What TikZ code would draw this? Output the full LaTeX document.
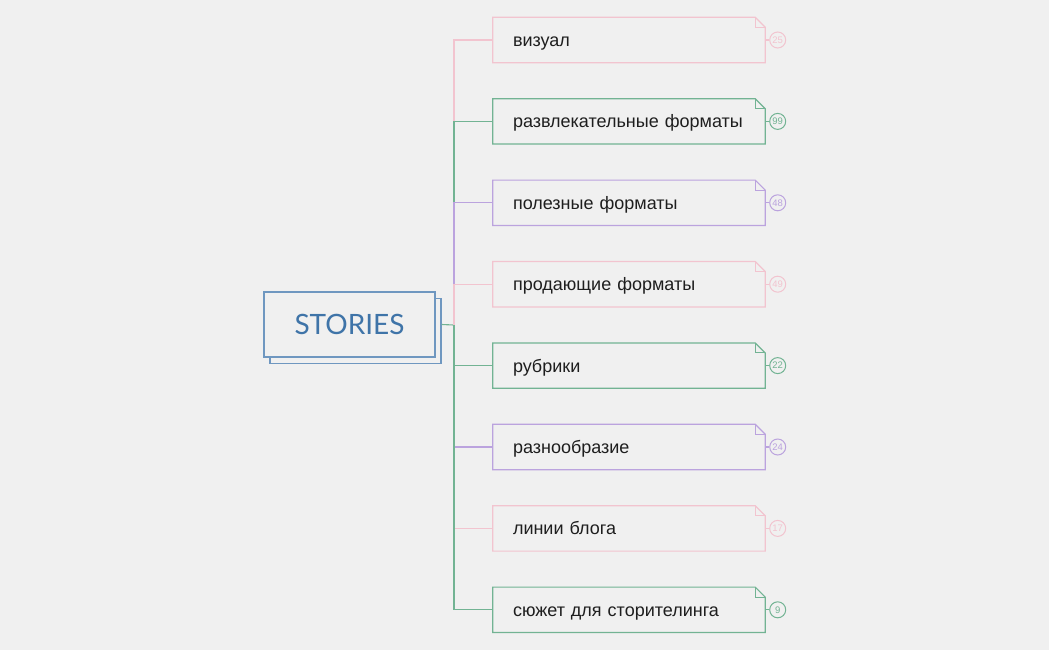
\documentclass[tikz,border=0pt]{standalone}
\usepackage{fontspec}
\setmainfont{Liberation Sans}
\newfontfamily\rootfont{Lato}
\usetikzlibrary{positioning}
\definecolor{bgc}{HTML}{F0F0F0}
\definecolor{pinkc}{HTML}{F2C4CF}
\definecolor{greenc}{HTML}{72B393}
\definecolor{purplec}{HTML}{BBA3DE}
\definecolor{bluec}{HTML}{6F97C0}
\definecolor{rootc}{HTML}{3F74A8}
\definecolor{textc}{HTML}{1E1E1E}
\tikzset{
  rootbox/.style={draw=bluec, line width=1.2pt, minimum width=171pt, minimum height=65pt, inner sep=0pt},
  leaf/.style={minimum width=272pt, minimum height=45pt, text width=232pt, inner xsep=20pt, inner ysep=0pt, text height=16pt, text depth=3pt, align=left, text=textc, font=\fontsize{18}{20}\selectfont},
  badge/.style={circle, draw=#1, text=#1, line width=1pt, minimum size=16pt, inner sep=0pt, font=\fontsize{9.5}{10}\selectfont},
  link/.style={line width=1.1pt},
}
\newcommand{\leafbox}[2]{%
  \draw[#2, line width=1.2pt] (#1.north west) -- ([xshift=-10pt]#1.north east) -- ([yshift=-10pt]#1.north east) -- (#1.south east) -- (#1.south west) -- cycle;
  \draw[#2, line width=1pt] ([xshift=-10pt]#1.north east) -- ([xshift=-10pt,yshift=-10pt]#1.north east) -- ([yshift=-10pt]#1.north east);
}
\begin{document}
\begin{tikzpicture}[x=1pt,y=-1pt]
  \fill[bgc] (0,0) rectangle (1049,650);
  \useasboundingbox (0,0) rectangle (1049,650);

  % root
  \node[rootbox] (rootback) at (355.5,331) {};
  \node[rootbox, fill=bgc, text=rootc, font=\rootfont\fontsize{28}{30}\selectfont] (root) at (349.5,324.5) {STORIES};
  \coordinate (hub) at (454,325);

  % leaves
  \node[leaf] (c1) at (629,40) {визуал};
  \node[leaf] (c2) at (629,121.4) {развлекательные форматы};
  \node[leaf] (c3) at (629,202.8) {полезные форматы};
  \node[leaf] (c4) at (629,284.2) {продающие форматы};
  \node[leaf] (c5) at (629,365.6) {рубрики};
  \node[leaf] (c6) at (629,447) {разнообразие};
  \node[leaf] (c7) at (629,528.4) {линии блога};
  \node[leaf] (c8) at (629,609.8) {сюжет для сторителинга};

  \leafbox{c1}{pinkc}
  \leafbox{c2}{greenc}
  \leafbox{c3}{purplec}
  \leafbox{c4}{pinkc}
  \leafbox{c5}{greenc}
  \leafbox{c6}{purplec}
  \leafbox{c7}{pinkc}
  \leafbox{c8}{greenc}

  % counters
  \node[badge=pinkc, right=4pt of c1] (b1) {25};
  \node[badge=greenc, right=4pt of c2] (b2) {99};
  \node[badge=purplec, right=4pt of c3] (b3) {48};
  \node[badge=pinkc, right=4pt of c4] (b4) {49};
  \node[badge=greenc, right=4pt of c5] (b5) {22};
  \node[badge=purplec, right=4pt of c6] (b6) {24};
  \node[badge=pinkc, right=4pt of c7] (b7) {17};
  \node[badge=greenc, right=4pt of c8] (b8) {9};
  \draw[pinkc, link] (c1.east) -- (b1.west);
  \draw[greenc, link] (c2.east) -- (b2.west);
  \draw[purplec, link] (c3.east) -- (b3.west);
  \draw[pinkc, link] (c4.east) -- (b4.west);
  \draw[greenc, link] (c5.east) -- (b5.west);
  \draw[purplec, link] (c6.east) -- (b6.west);
  \draw[pinkc, link] (c7.east) -- (b7.west);
  \draw[greenc, link] (c8.east) -- (b8.west);

  % branches
  \draw[greenc, link] (root.east -| rootback.east) -- (hub);
  \draw[pinkc, link] (hub) |- (c1.west);
  \draw[greenc, link] (hub) |- (c2.west);
  \draw[purplec, link] (hub) |- (c3.west);
  \draw[pinkc, link] (hub) |- (c4.west);
  \draw[greenc, link] (hub) |- (c5.west);
  \draw[purplec, link] (hub) |- (c6.west);
  \draw[pinkc, link] (hub) |- (c7.west);
  \draw[greenc, link] (hub) |- (c8.west);
\end{tikzpicture}
\end{document}
